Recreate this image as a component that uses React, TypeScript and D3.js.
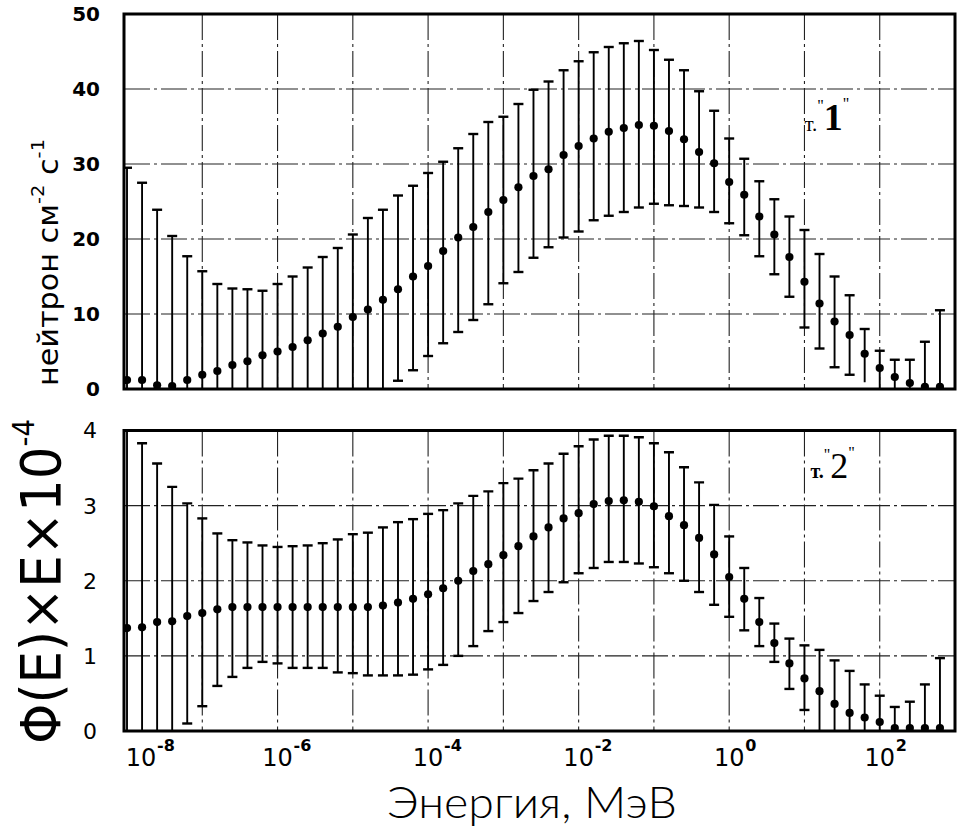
import React from "react";
import * as d3 from "d3";

// log10 of energy, MeV
const energyExp = [
  -8, -7.8, -7.6, -7.4, -7.2, -7, -6.8, -6.6, -6.4, -6.2, -6, -5.8, -5.6, -5.4,
  -5.2, -5, -4.8, -4.6, -4.4, -4.2, -4, -3.8, -3.6, -3.4, -3.2, -3, -2.8, -2.6,
  -2.4, -2.2, -2, -1.8, -1.6, -1.4, -1.2, -1, -0.8, -0.6, -0.4, -0.2, 0, 0.2,
  0.4, 0.6, 0.8, 1, 1.2, 1.4, 1.6, 1.8, 2, 2.2, 2.4, 2.6, 2.8,
];

// point "1"
const flux1 = [
  1.2, 1.2, 0.5, 0.4, 1.2, 1.9, 2.4, 3.2, 3.7, 4.5, 5.0, 5.6, 6.5, 7.4, 8.3, 9.6,
  10.6, 11.9, 13.3, 15.0, 16.4, 18.4, 20.2, 21.6, 23.6, 25.2, 26.9, 28.4, 29.3,
  31.2, 32.4, 33.4, 34.3, 34.8, 35.2, 35.1, 34.4, 33.3, 31.6, 30.1, 27.6, 25.9,
  23.0, 20.6, 17.6, 14.3, 11.4, 9.0, 7.2, 4.7, 2.8, 1.6, 0.8, 0.3, 0.3,
];
const upper1 = [
  29.5, 27.5, 23.9, 20.4, 17.7, 15.7, 14.0, 13.4, 13.3, 13.1, 14.0, 15.0, 16.2,
  17.6, 18.8, 20.6, 22.8, 23.9, 25.8, 27.1, 28.8, 30.3, 32.1, 34.0, 35.6, 36.3,
  38.0, 39.9, 41.0, 42.5, 43.7, 44.9, 45.6, 46.1, 46.4, 45.2, 43.9, 42.5, 39.7,
  37.1, 33.4, 30.7, 27.7, 25.3, 23.0, 21.2, 18.0, 15.0, 12.5, 8.0, 5.1, 3.9,
  3.9, 6.3, 10.5,
];
const lower1 = [
  0, 0, 0, 0, 0, 0, 0, 0, 0, 0, 0, 0, 0, 0, 0, 0, 0, 0, 1.1, 2.5, 4.4, 6.1, 7.6,
  9.2, 11.3, 14.1, 15.6, 17.5, 18.9, 20.2, 21.0, 22.5, 23.1, 23.6, 24.2, 24.7,
  24.5, 24.4, 24.2, 23.6, 22.1, 20.5, 17.7, 15.3, 12.3, 8.2, 5.4, 2.9, 1.9, 0.9,
  0, 0, 0, 0, 0,
];

// point "2"
const flux2 = [
  1.37, 1.38, 1.45, 1.46, 1.53, 1.57, 1.62, 1.65, 1.65, 1.65, 1.65, 1.65, 1.65,
  1.65, 1.65, 1.65, 1.65, 1.67, 1.71, 1.76, 1.82, 1.9, 2.0, 2.13, 2.22, 2.34,
  2.46, 2.59, 2.71, 2.83, 2.9, 3.02, 3.06, 3.07, 3.05, 2.99, 2.86, 2.74, 2.57,
  2.35, 2.05, 1.76, 1.45, 1.17, 0.9, 0.7, 0.53, 0.36, 0.24, 0.18, 0.12, 0.04,
  0.04, 0.04, 0.04,
];
const upper2 = [
  4.0, 3.83, 3.56, 3.25, 3.03, 2.83, 2.63, 2.54, 2.51, 2.47, 2.45, 2.46, 2.47,
  2.5, 2.55, 2.62, 2.64, 2.71, 2.78, 2.82, 2.89, 2.94, 3.03, 3.13, 3.19, 3.3,
  3.36, 3.47, 3.56, 3.69, 3.79, 3.88, 3.93, 3.93, 3.91, 3.83, 3.71, 3.51, 3.31,
  3.01, 2.59, 2.17, 1.77, 1.43, 1.23, 1.14, 1.08, 0.94, 0.8, 0.62, 0.47, 0.32,
  0.39, 0.62, 0.97,
];
const lower2 = [
  0, 0, 0, 0, 0.1, 0.33, 0.6, 0.72, 0.84, 0.92, 0.9, 0.84, 0.84, 0.84, 0.78,
  0.77, 0.74, 0.74, 0.74, 0.75, 0.82, 0.88, 1.0, 1.13, 1.33, 1.45, 1.57, 1.73,
  1.85, 1.98, 2.1, 2.17, 2.25, 2.25, 2.23, 2.18, 2.1, 2.0, 1.85, 1.68, 1.52,
  1.34, 1.13, 0.92, 0.56, 0.28, 0, 0, 0, 0, 0, 0, 0, 0, 0,
];

const ticks1 = [0, 10, 20, 30, 40, 50];
const ticks2 = [0, 1, 2, 3, 4];
const xTickExp = [-8, -6, -4, -2, 0, 2];
const gridExp = [-7, -6, -5, -4, -3, -2, -1, 0, 1, 2];

const W = 961;
const H = 830;
const X0 = 124;
const X1 = 955;

const x = d3.scaleLog().domain([Math.pow(10, -8.04), 1e3]).range([X0, X1]);

const gridDash = "26 4 3 4";

function Panel({ top, bottom, max, ticks, flux, upper, lower, bold, tag }) {
  const y = d3.scaleLinear().domain([0, max]).range([bottom, top]);
  const pts = energyExp.map((e, i) => ({
    cx: x(Math.pow(10, e)),
    v: flux[i],
    hi: upper[i],
    lo: lower[i],
  }));
  const clipId = "clip" + top;
  return (
    <g>
      <defs>
        <clipPath id={clipId}>
          <rect x={X0} y={top} width={X1 - X0} height={bottom - top} />
        </clipPath>
      </defs>
      {ticks.slice(1, -1).map((t) => (
        <line key={"h" + t} x1={X0} x2={X1} y1={y(t)} y2={y(t)}
          stroke="#222" strokeWidth={1.1} strokeDasharray={gridDash} />
      ))}
      {gridExp.map((e) => (
        <line key={"v" + e} x1={x(Math.pow(10, e))} x2={x(Math.pow(10, e))}
          y1={top} y2={bottom} stroke="#222" strokeWidth={1.1}
          strokeDasharray={gridDash} />
      ))}
      <g clipPath={`url(#${clipId})`}>
        {pts.map((p, i) => (
          <g key={i}>
            <line x1={p.cx} x2={p.cx} y1={y(p.lo)} y2={y(p.hi)}
              stroke="#000" strokeWidth={1.9} />
            <line x1={p.cx - 5} x2={p.cx + 5} y1={y(p.hi)} y2={y(p.hi)}
              stroke="#000" strokeWidth={2.4} />
            {p.lo > 0.02 * max && (
              <line x1={p.cx - 5} x2={p.cx + 5} y1={y(p.lo)} y2={y(p.lo)}
                stroke="#000" strokeWidth={2.4} />
            )}
            <circle cx={p.cx} cy={y(p.v)} r={4.1} fill="#000" />
          </g>
        ))}
      </g>
      <rect x={X0} y={top} width={X1 - X0} height={bottom - top}
        fill="none" stroke="#000" strokeWidth={3} />
      {ticks.map((t) => (
        <text key={"t" + t} x={bold ? 100 : 97} y={y(t)} dy="0.36em"
          textAnchor="end" fontFamily="DejaVu Sans"
          fontWeight={bold ? "bold" : "normal"} fontSize={bold ? 20 : 22}>
          {t}
        </text>
      ))}
      {tag}
    </g>
  );
}

export default function App() {
  const tagX = x(10);
  return (
    <div style={{ position: "absolute", left: 0, top: 0 }}>
      <svg width={W} height={H} style={{ display: "block", background: "#fff" }}>
        <Panel top={14} bottom={389} max={50} ticks={ticks1} flux={flux1}
          upper={upper1} lower={lower1} bold={true}
          tag={
            <text x={tagX} y={131} fontFamily="Liberation Serif">
              <tspan fontSize={21}>т.</tspan>
              <tspan fontSize={16} dy={-20}>"</tspan>
              <tspan fontSize={38} fontWeight="bold" dy={19}>1</tspan>
              <tspan fontSize={16} dy={-21}>"</tspan>
            </text>
          } />
        <Panel top={430.5} bottom={731} max={4} ticks={ticks2} flux={flux2}
          upper={upper2} lower={lower2} bold={false}
          tag={
            <text x={tagX + 6} y={478} fontFamily="Liberation Serif">
              <tspan fontSize={20} fontWeight="bold">т.</tspan>
              <tspan fontSize={16} dy={-18}>"</tspan>
              <tspan fontSize={36} dy={18}>2</tspan>
              <tspan fontSize={16} dy={-20}>"</tspan>
            </text>
          } />
        {xTickExp.map((e) => {
          const tx = Math.max(x(Math.pow(10, e)), X0 + 17);
          return (
            <g key={"x" + e} fontFamily="DejaVu Sans">
              <text x={tx} y={766} textAnchor="middle" fontSize={24}>10</text>
              <text x={tx + 16} y={751} fontSize={16} fontWeight="bold">
                {e === 0 ? "0" : e > 0 ? String(e) : "-" + Math.abs(e)}
              </text>
            </g>
          );
        })}
        <text x={387} y={818} fontFamily="Lato" fontWeight={300} fontSize={44}
          textLength={290} lengthAdjust="spacingAndGlyphs">
          Энергия, МэВ
        </text>
        <g transform="translate(60,744) rotate(-90)" fontFamily="DejaVu Sans">
          <text x={0} y={0} fontSize={56} textLength={325}
            lengthAdjust="spacingAndGlyphs">
            Φ(E)×E×10<tspan fontSize={30} dy={-26}>-4</tspan>
          </text>
          <text x={358} y={-2} fontSize={28} textLength={247}
            lengthAdjust="spacingAndGlyphs">
            нейтрон см<tspan fontSize={18} dy={-14}>-2</tspan>
            <tspan dy={14}> с</tspan>
            <tspan fontSize={18} dy={-14}>-1</tspan>
          </text>
        </g>
      </svg>
    </div>
  );
}
